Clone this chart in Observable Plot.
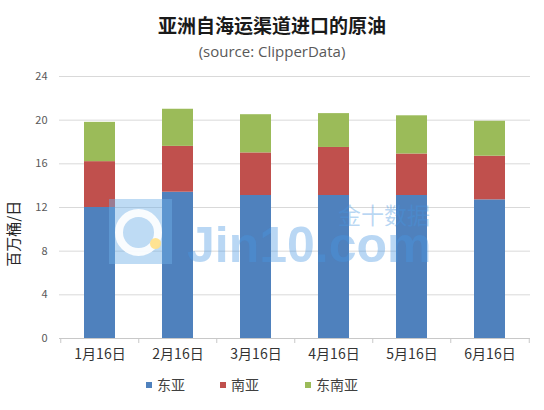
<!DOCTYPE html>
<html><head><meta charset="utf-8">
<script src="https://cdn.jsdelivr.net/npm/d3@7"></script>
<script src="https://cdn.jsdelivr.net/npm/@observablehq/plot@0.6"></script>
<style>
body{margin:0;background:#fff;font-family:"Noto Sans CJK SC","Noto Sans",sans-serif;}
#wrap{position:relative;width:544px;height:410px;overflow:hidden;}
.abs{position:absolute;white-space:nowrap;}
#title{left:0;width:544px;top:12px;text-align:center;font-size:19px;font-weight:bold;color:#1a1a1a;line-height:26px;}
#sub{left:0;width:544px;top:40px;text-align:center;font-size:15px;color:#595959;line-height:22px;font-family:"Open Sans","Noto Sans",sans-serif;}
#chart{left:0;top:62px;}
.lg{position:absolute;top:375px;font-size:14px;color:#404040;line-height:18px;white-space:nowrap;}
.lg span.sw{display:inline-block;width:6px;height:6px;margin-right:5px;vertical-align:middle;position:relative;top:-1px;}
.wm{pointer-events:none;}
</style></head>
<body><div id="wrap">
<div id="title" class="abs"></div>
<div id="sub" class="abs"></div>
<div id="chart" class="abs"></div>
<div id="legend"></div>
<div class="abs wm" style="left:109px;top:199px;width:63px;height:65px;background:rgba(110,175,230,0.45);"></div>
<div class="abs wm" style="left:115px;top:209px;width:31px;height:31px;border:8px solid rgba(255,255,255,0.9);border-radius:50%;"></div>
<div class="abs wm" style="left:150px;top:238px;width:11px;height:11px;background:rgba(255,225,140,0.95);border-radius:50%;"></div>
<div class="abs wm" style="left:187px;top:227px;font-size:50px;line-height:36px;font-weight:bold;font-family:'Liberation Sans',Arial,sans-serif;color:rgba(70,150,225,0.38);">Jin10.com</div>
<div class="abs wm" style="left:338px;top:203px;font-size:23px;line-height:22px;color:rgba(70,150,225,0.38);">金十数据</div>
</div>
<script>
const titleText = "亚洲自海运渠道进口的原油";
const subtitleText = "(source: ClipperData)";
const yLabel = "百万桶/日";
const months = ["1月16日","2月16日","3月16日","4月16日","5月16日","6月16日"];
const regions = ["东亚","南亚","东南亚"];
const colors = ["#4F81BD","#C0504D","#9BBB59"];
const eastAsia = [12.0, 13.4, 13.1, 13.1, 13.1, 12.7];
const southAsia = [4.2, 4.2, 3.9, 4.4, 3.8, 4.0];
const southeastAsia = [3.6, 3.4, 3.5, 3.1, 3.5, 3.2];
const yTicks = [0,4,8,12,16,20,24];

document.getElementById("title").textContent = titleText;
document.getElementById("sub").textContent = subtitleText;

const series = [eastAsia, southAsia, southeastAsia];
const data = [];
months.forEach((m, i) => regions.forEach((r, j) => data.push({month: m, region: r, value: series[j][i]})));

const W = 544, ML = 59, MR = 14;
const step = (W - ML - MR) / months.length;

const chart = Plot.plot({
  width: W, height: 300,
  marginLeft: ML, marginRight: MR, marginTop: 14, marginBottom: 24,
  style: {fontFamily: '"Noto Sans CJK SC","Noto Sans",sans-serif', background: "transparent"},
  x: {domain: months, paddingInner: 0.6, paddingOuter: 0.3, axis: null},
  y: {domain: [0, 24], axis: null},
  color: {domain: regions, range: colors},
  marks: [
    Plot.gridY(yTicks.filter(d => d > 0), {stroke: "#d9d9d9", strokeOpacity: 1}),
    Plot.barY(data, {x: "month", y: "value", fill: "region", order: null}),
    Plot.ruleY([0], {stroke: "#c8c8c8"}),
    Plot.axisX({tickSize: 5, tickFormat: () => "", dx: -step/2, stroke: "#c8c8c8", label: null}),
    Plot.axisX({ticks: [months[months.length-1]], tickSize: 5, tickFormat: () => "", dx: step/2, stroke: "#c8c8c8", label: null}),
    Plot.axisX({tickSize: 0, tickPadding: 11, fontSize: 14, fill: "#333", label: null}),
    Plot.axisY({ticks: yTicks, tickSize: 0, tickPadding: 12, fontSize: 11, fill: "#595959", label: null}),
    Plot.text([{v: 9.6, t: yLabel}], {y: "v", text: "t", frameAnchor: "left", textAnchor: "middle", dx: -45, rotate: -90, fontSize: 15, fill: "#262626"})
  ]
});
document.getElementById("chart").appendChild(chart);

const legend = document.getElementById("legend");
const legendLeft = [146, 220, 305];
regions.forEach((r, i) => {
  const item = document.createElement("div");
  item.className = "lg";
  item.style.left = legendLeft[i] + "px";
  const sw = document.createElement("span");
  sw.className = "sw"; sw.style.background = colors[i];
  item.appendChild(sw);
  item.appendChild(document.createTextNode(r));
  legend.appendChild(item);
});
</script>
</body></html>
